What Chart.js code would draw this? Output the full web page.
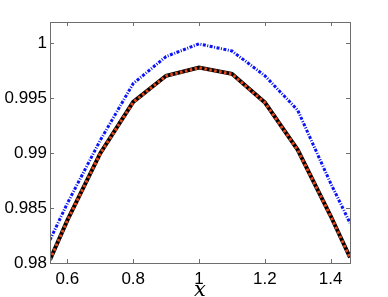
<!DOCTYPE html>
<html>
<head>
<meta charset="utf-8">
<script src="https://cdn.jsdelivr.net/npm/chart.js@4/dist/chart.umd.min.js"></script>
<style>
  html, body { margin: 0; padding: 0; background: #fff; }
  #wrap { width: 388px; height: 297px; }
</style>
</head>
<body>
<div id="wrap"><canvas id="chart" width="388" height="297"></canvas></div>
<script>
// values
const xValues = [0.547, 0.6, 0.7, 0.8, 0.9, 1.0, 1.1, 1.2, 1.3, 1.4, 1.459];
const blackSolid = [0.9803, 0.9839, 0.9900, 0.99466, 0.99705, 0.99780, 0.99722, 0.99462, 0.99030, 0.98430, 0.98050];
const redDotted = [0.9803, 0.98388, 0.98998, 0.99464, 0.99703, 0.99778, 0.99720, 0.99460, 0.99028, 0.98428, 0.98048];
const blueDashDot = [0.9821, 0.98545, 0.99118, 0.99634, 0.99880, 0.99995, 0.99930, 0.99705, 0.99391, 0.98727, 0.98364];
const xTicks = [0.6, 0.8, 1, 1.2, 1.4];
const yTicks = [0.98, 0.985, 0.99, 0.995, 1];

const X_MIN = 0.547, X_MAX = 1.459, Y_MIN = 0.98, Y_MAX = 1.00194;
const FRAME = "#6e6e6e";
const tickFont = { family: "'Liberation Sans', Arial, sans-serif", size: 17 };

function pts(ys) {
  return xValues.map((x, i) => ({ x: x, y: ys[i] }));
}

// MATLAB style box with inward tick marks on all four sides
const boxPlugin = {
  id: "box",
  afterDraw(chart) {
    const { ctx, chartArea: a, scales } = chart;
    ctx.save();
    ctx.strokeStyle = FRAME;
    ctx.lineWidth = 1;
    ctx.strokeRect(a.left + 0.5, a.top + 0.5, a.right - a.left, a.bottom - a.top);
    const len = 4;
    ctx.beginPath();
    xTicks.forEach((v) => {
      const px = Math.round(scales.x.getPixelForValue(v)) + 0.5;
      ctx.moveTo(px, a.bottom);
      ctx.lineTo(px, a.bottom - len);
      ctx.moveTo(px, a.top);
      ctx.lineTo(px, a.top + len);
    });
    yTicks.forEach((v) => {
      const py = Math.round(scales.y.getPixelForValue(v)) + 0.5;
      ctx.moveTo(a.left, py);
      ctx.lineTo(a.left + len, py);
      ctx.moveTo(a.right, py);
      ctx.lineTo(a.right - len, py);
    });
    ctx.stroke();
    ctx.restore();
  },
};

new Chart(document.getElementById("chart"), {
  type: "line",
  data: {
    datasets: [
      {
        data: pts(redDotted),
        borderColor: "#e8471c",
        borderWidth: 3,
        borderDash: [2.5, 2.5],
        pointRadius: 0,
        tension: 0,
      },
      {
        data: pts(blackSolid),
        borderColor: "#000",
        borderWidth: 4,
        pointRadius: 0,
        tension: 0,
      },
      {
        data: pts(blueDashDot),
        borderColor: "#0a14f5",
        borderWidth: 3,
        borderDash: [3, 1.5, 1, 1.5],
        pointRadius: 0,
        tension: 0,
      },
    ],
  },
  options: {
    responsive: false,
    animation: false,
    layout: { padding: 0 },
    plugins: {
      legend: { display: false },
      tooltip: { enabled: false },
    },
    scales: {
      x: {
        type: "linear",
        min: X_MIN,
        max: X_MAX,
        afterBuildTicks: (s) => { s.ticks = xTicks.map((v) => ({ value: v })); },
        afterFit: (s) => { s.height = 34; },
        grid: { display: false, drawTicks: false },
        border: { display: false },
        ticks: {
          color: "#000",
          font: tickFont,
          padding: 6,
          maxRotation: 0,
          callback: (v) => String(Number(v.toFixed(3))),
        },
        title: {
          display: true,
          text: "x",
          color: "#000",
          font: { family: "'DejaVu Serif', serif", size: 21, style: "italic" },
          padding: { top: 0, bottom: -6 },
        },
      },
      y: {
        min: Y_MIN,
        max: Y_MAX,
        afterBuildTicks: (s) => { s.ticks = yTicks.map((v) => ({ value: v })); },
        afterFit: (s) => { s.width = 50; },
        grid: { display: false, drawTicks: false },
        border: { display: false },
        ticks: {
          color: "#000",
          font: tickFont,
          padding: 3,
          callback: (v) => String(Number(v.toFixed(3))),
        },
      },
      top: {
        type: "linear",
        position: "top",
        min: X_MIN,
        max: X_MAX,
        afterFit: (s) => { s.height = 22; },
        grid: { display: false },
        border: { display: false },
        ticks: { display: false },
      },
      right: {
        type: "linear",
        position: "right",
        min: Y_MIN,
        max: Y_MAX,
        afterFit: (s) => { s.width = 38; },
        grid: { display: false },
        border: { display: false },
        ticks: { display: false },
      },
    },
  },
  plugins: [boxPlugin],
});
</script>
</body>
</html>
